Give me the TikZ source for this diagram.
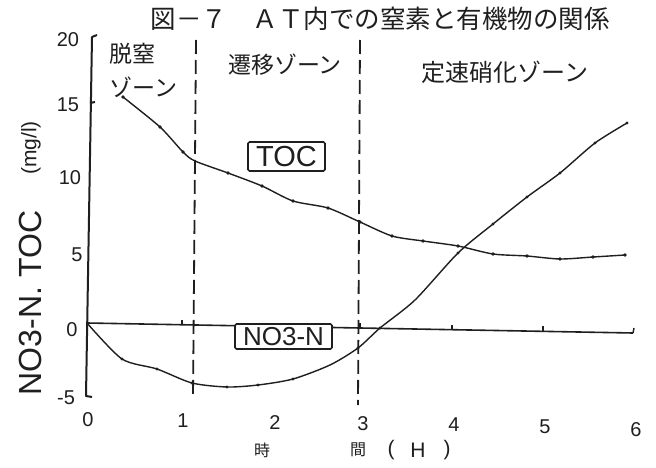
\documentclass[tikz,border=0pt]{standalone}
\usepackage{fontspec}
\setmainfont{Liberation Sans}
\newfontfamily\jp{Noto Sans CJK JP}
\definecolor{ink}{gray}{0.12}
\begin{document}
\begin{tikzpicture}[x=1pt,y=-1pt,
  every node/.style={inner sep=0pt, text=ink},
  curve/.style={draw=ink, line width=1.4pt, line join=round, line cap=round},
  axisline/.style={draw=ink, line width=2pt, line join=round},
  zonedash/.style={draw=ink, line width=1.8pt, dash pattern=on 14pt off 6pt},
  mk/.style={fill=ink},
  ticklbl/.style={font=\fontsize{20}{20}\selectfont},
  jplabel/.style={font=\jp\fontsize{23}{23}\selectfont},
  boxlbl/.style={draw=ink, fill=white, line width=1.6pt, rounded corners=1.5pt, align=center}
]
\useasboundingbox[fill=white] (0,0) rectangle (656,468);

% title
\node[font=\jp\fontsize{25.5}{26}\selectfont] (title) at (380,19) {図－７　ＡＴ内での窒素と有機物の関係};

% zone labels
\node[jplabel, anchor=west] (z1a) at (109,54) {脱窒};
\node[jplabel, anchor=west] (z1b) at (109,87) {ゾーン};
\node[jplabel] (z2) at (285,65) {遷移ゾーン};
\node[jplabel, font=\jp\fontsize{24}{24}\selectfont] (z3) at (505,72) {定速硝化ゾーン};

% y axis
\draw[axisline] (97,35) -- (92,37) -- (86,396) -- (92,397);
\draw[axisline] (90,103) -- (95,102);

% zero line with ticks
\draw[draw=ink, line width=1.6pt] (87,323) -- (633,333);
\foreach \xx/\yy in {182/324.7, 360/328, 452/329.7, 543/331.4}
  \draw[draw=ink, line width=1.4pt] (\xx,\yy) -- (\xx,\yy-5);
\draw[draw=ink, line width=1.4pt] (633,333) -- (634,328);

% zone dashed lines
\draw[zonedash] (196,40) -- (193,398);
\draw[zonedash] (360,40) -- (358,405);

% y tick labels
\node[ticklbl] (y20) at (68,40) {20};
\node[ticklbl] (y15) at (68,105) {15};
\node[ticklbl] (y10) at (70,178) {10};
\node[ticklbl] (y5) at (77,255) {5};
\node[ticklbl] (y0) at (72,330) {0};
\node[ticklbl] (ym5) at (66,398) {-5};

% x tick labels
\node[ticklbl] (x0) at (88,420) {0};
\node[ticklbl] (x1) at (183,421) {1};
\node[ticklbl] (x2) at (275,423) {2};
\node[ticklbl] (x3) at (363,424) {3};
\node[ticklbl] (x4) at (454,425) {4};
\node[ticklbl] (x5) at (545,427) {5};
\node[ticklbl] (x6) at (636,430) {6};

% axis titles
\node[rotate=90, font=\fontsize{32}{32}\selectfont] (ylab) at (30,303) {NO3-N. TOC};
\node[rotate=90, font=\fontsize{21}{21}\selectfont] (yunit) at (31,148) {(mg/l)};
\node[font=\jp\fontsize{16}{16}\selectfont] (xl1) at (262,450) {時};
\node[font=\jp\fontsize{16}{16}\selectfont] (xl2) at (358,450) {間};
\node[font=\fontsize{21}{21}\selectfont] (xl3) at (391,450) {(};
\node[font=\fontsize{21}{21}\selectfont] (xl4) at (418,450) {H};
\node[font=\fontsize{21}{21}\selectfont] (xl5) at (447,450) {)};

% TOC curve
\draw[curve] plot[smooth, tension=0.45] coordinates {
  (123,97) (160,127) (183,152) (195,161) (228,173) (262,186) (293,201)
  (328,208) (360,222) (392,236) (423,241) (458,246) (493,254) (527,256)
  (560,259) (593,257) (625,255)};
\foreach \p in {(123,97),(160,127),(183,152),(228,173),(262,186),(293,201),
  (328,208),(360,222),(392,236),(423,241),(458,246),(493,254),(527,256),
  (560,259),(593,257),(625,255)}
  \fill[mk] \p circle (1.9pt);

% NO3-N curve
\draw[curve] plot[smooth, tension=0.45] coordinates {
  (87,323) (122,359) (157,369) (192,383) (227,387) (258,385) (293,379)
  (330,365) (358,348) (380,328) (415,300) (458,253) (493,224) (527,197)
  (560,173) (595,143) (627,123)};
\foreach \p in {(122,359),(157,369),(192,383),(227,387),(258,385),(293,379),
  (358,348),(380,328),(458,253),(493,224),(527,197),(560,173),(595,143),(627,123)}
  \fill[mk] \p circle (1.7pt);

% boxed labels
\node[boxlbl, minimum width=77pt, minimum height=29pt, font=\fontsize{29}{29}\selectfont] (toc) at (286.5,156.5) {TOC};
\node[boxlbl, minimum width=97pt, minimum height=25pt, font=\fontsize{26}{26}\selectfont] (no3) at (283.5,336.5) {NO3-N};
\end{tikzpicture}
\end{document}
